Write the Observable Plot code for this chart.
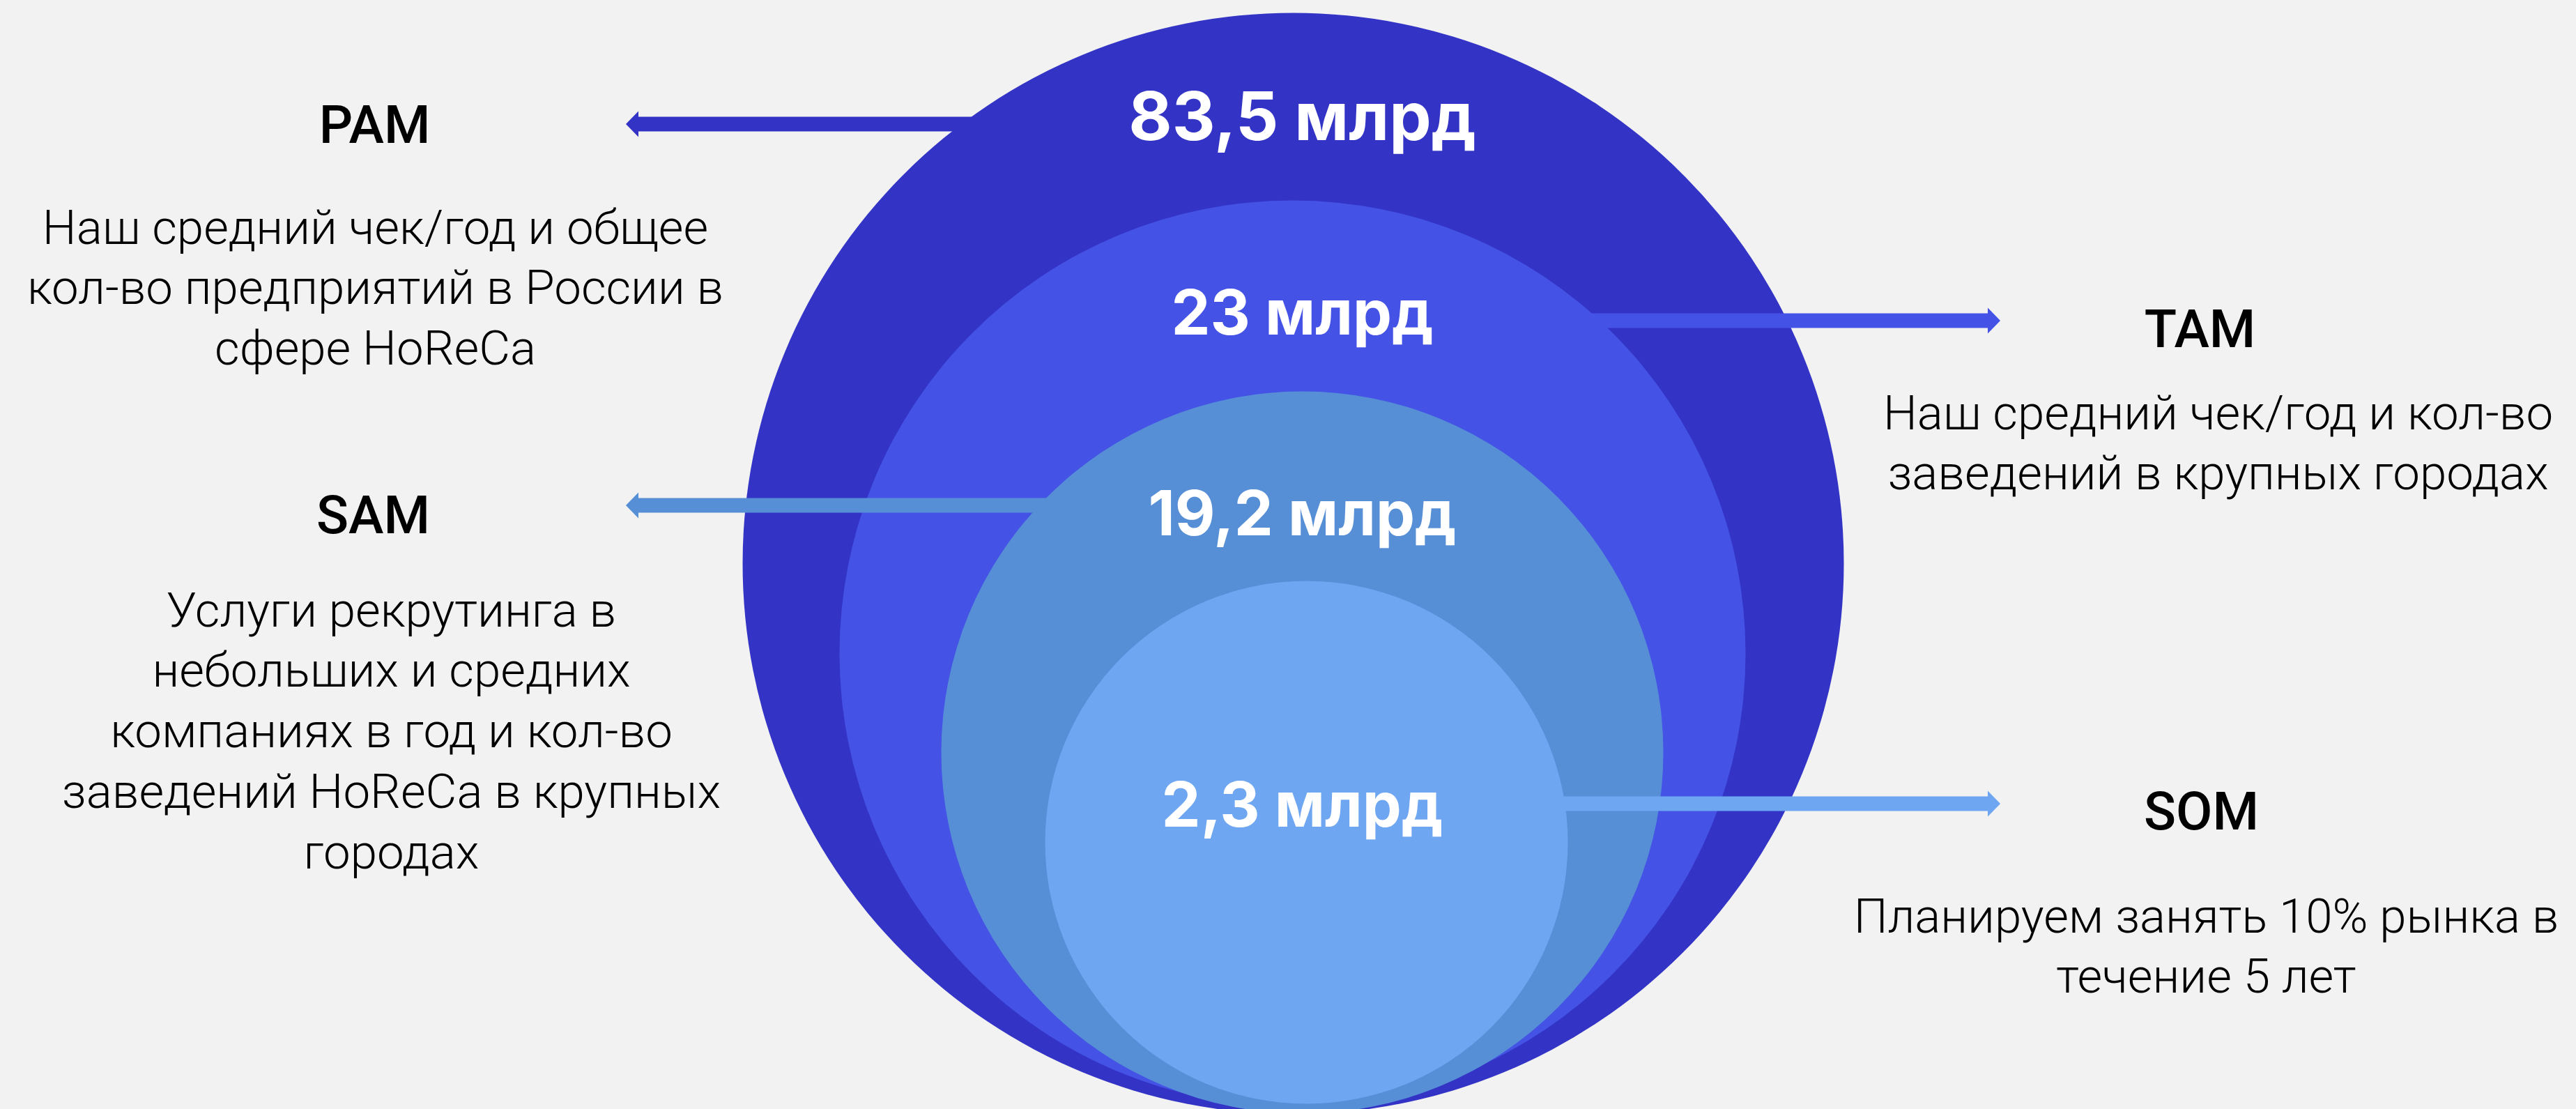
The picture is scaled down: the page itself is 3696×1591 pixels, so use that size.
<!DOCTYPE html>
<html>
<head>
<meta charset="utf-8">
<script src="https://cdn.jsdelivr.net/npm/d3@7"></script>
<script src="https://cdn.jsdelivr.net/npm/@observablehq/plot@0.6"></script>
<style>
  html, body { margin: 0; padding: 0; background: #F2F2F2; overflow: hidden; }
  #chart svg { display: block; }
</style>
</head>
<body>
<div id="chart"></div>
<script>
// ---------- data ----------
const segments = ["PAM", "TAM", "SAM", "SOM"];
const values = ["83,5 млрд", "23 млрд", "19,2 млрд", "2,3 млрд"];
const descriptions = [
  "Наш средний чек/год и общее\nкол-во предприятий в России в\nсфере HoReCa",
  "Наш средний чек/год и кол-во\nзаведений в крупных городах",
  "Услуги рекрутинга в\nнебольших и средних\nкомпаниях в год и кол-во\nзаведений HoReCa в крупных\nгородах",
  "Планируем занять 10% рынка в\nтечение 5 лет"
];

// ---------- layout (pixel units of the canvas) ----------
const W = 3696, H = 1591;
const circleCx = [1855, 1854, 1868, 1874];
const circleCy = [808, 937, 1079, 1208];
const circleR  = [790, 650, 518, 375];
const colors   = ["#3334C6", "#4453E6", "#568FD6", "#6EA6F2"];
const arrowY    = [178, 460, 725, 1153];
const arrowDir  = [-1, 1, -1, 1];
const arrowTip  = [898, 2870, 898, 2870];
const headLen = 18, headHalf = 18.5, shaftHalf = 10.5;
const valueX = 1868;
const valueBase = [200, 479, 767, 1185];
const valueSize = [96, 89, 89, 89];
const titleX = [537, 3156, 535, 3158];
const titleBase = [204, 497, 764, 1189];
const titleSize = 76;
const bodyX = [538, 3182, 561, 3165];
const bodyBase = [349, 615, 898, 1337];
const bodySize = 69;
const bodyLH = 1.26;

const rows = segments.map((s, i) => ({
  seg: s, value: values[i], desc: descriptions[i],
  cx: circleCx[i], cy: circleCy[i], r: circleR[i],
  ay: arrowY[i], tip: arrowTip[i], dir: arrowDir[i],
  back: arrowTip[i] - arrowDir[i] * headLen
}));

// arrow outline as an area band: tip -> head back -> shaft -> circle centre
function arrowBand(d) {
  return [
    {x: d.tip,  y1: d.ay,             y2: d.ay},
    {x: d.back, y1: d.ay - headHalf,  y2: d.ay + headHalf},
    {x: d.back, y1: d.ay - shaftHalf, y2: d.ay + shaftHalf},
    {x: d.cx,   y1: d.ay - shaftHalf, y2: d.ay + shaftHalf}
  ];
}

const marks = [];
rows.forEach((d, i) => {
  // arrow (drawn beneath its own circle, above the larger ones)
  marks.push(Plot.area(arrowBand(d), {x1: "x", y1: "y1", y2: "y2", fill: colors[i]}));
  // circle
  marks.push(Plot.dot([d], {x: "cx", y: "cy", r: "r", fill: colors[i]}));
});

rows.forEach((d, i) => {
  marks.push(Plot.text([d], {
    x: () => valueX, y: () => valueBase[i] - 0.71 * valueSize[i],
    text: "value", lineAnchor: "top", textAnchor: "middle",
    fill: "white", fontSize: valueSize[i], fontWeight: 700, fontFamily: "Inter"
  }));
  marks.push(Plot.text([d], {
    x: () => titleX[i], y: () => titleBase[i] - 0.71 * titleSize,
    text: "seg", lineAnchor: "top", textAnchor: "middle",
    fill: "black", fontSize: titleSize, fontWeight: 500, fontFamily: "Roboto"
  }));
  marks.push(Plot.text([d], {
    x: () => bodyX[i], y: () => bodyBase[i] - 0.71 * bodyLH * bodySize,
    text: "desc", lineAnchor: "top", textAnchor: "middle", lineHeight: bodyLH,
    fill: "black", fontSize: bodySize, fontWeight: 300, fontFamily: "Roboto"
  }));
});

const chart = Plot.plot({
  width: W, height: H,
  margin: 0, marginTop: 0, marginRight: 0, marginBottom: 0, marginLeft: 0,
  x: {domain: [0, W], range: [0, W], axis: null},
  y: {domain: [0, H], range: [0, H], axis: null},
  r: {type: "linear", domain: [0, 1000], range: [0, 1000]},
  style: {background: "#F2F2F2", overflow: "hidden"},
  marks
});
document.getElementById("chart").appendChild(chart);
</script>
</body>
</html>
